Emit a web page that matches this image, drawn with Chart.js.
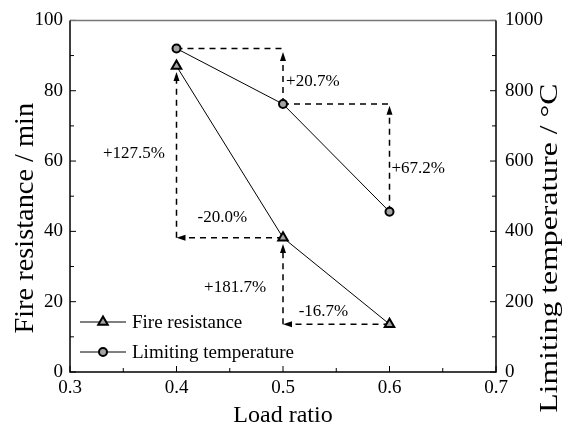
<!DOCTYPE html>
<html>
<head>
<meta charset="utf-8">
<script src="https://cdn.jsdelivr.net/npm/chart.js@4.4.1/dist/chart.umd.min.js"></script>
<style>
  html, body { margin: 0; padding: 0; background: #fff; }
</style>
</head>
<body>
<canvas id="chart" width="568" height="433"></canvas>
<script>
"use strict";

// Data
const loadRatio = [0.4, 0.5, 0.6];
const fireResistance = [87.0, 38.2, 13.6];
const limitingTemp = [920, 762, 456];

const xTicks = [0.3, 0.4, 0.5, 0.6, 0.7];
const fireTicks = [0, 20, 40, 60, 80, 100];
const tempTicks = [0, 200, 400, 600, 800, 1000];

// Dashed guide lines (data coordinates), arrow head at "to" end when head = true
const fireGuides = [
    { from: [0.4, 38.2], to: [0.4, 85.3], head: true },
    { from: [0.5, 38.2], to: [0.4, 38.2], head: true },
    { from: [0.5, 13.6], to: [0.5, 36.4], head: true },
    { from: [0.6, 13.6], to: [0.5, 13.6], head: true }
];
const tempGuides = [
    { from: [0.4, 920], to: [0.5, 920], head: false },
    { from: [0.5, 762], to: [0.5, 910], head: true },
    { from: [0.5, 762], to: [0.6, 762], head: false },
    { from: [0.6, 456], to: [0.6, 757], head: true }
];

// Percentage change labels
const changeLabels = [
    { text: '+20.7%', x: 0.528, y: 827, axis: 'y1' },
    { text: '+67.2%', x: 0.627, y: 578, axis: 'y1' },
    { text: '+127.5%', x: 0.360, y: 62.0, axis: 'y' },
    { text: '-20.0%', x: 0.443, y: 43.9, axis: 'y' },
    { text: '+181.7%', x: 0.455, y: 24.0, axis: 'y' },
    { text: '-16.7%', x: 0.538, y: 17.3, axis: 'y' }
];

const leftTitle = 'Fire resistance / min';
const rightTitle = 'Limiting temperature / \u00B0C';

const FONT = "'Liberation Serif', 'Times New Roman', serif";
const MARKER_FILL = '#a3a3a3';

// Frame, inward ticks, vertical axis titles
const framePlugin = {
    id: 'frame',
    afterDraw(chart) {
        const { ctx, chartArea: a, scales } = chart;
        ctx.save();
        ctx.strokeStyle = '#000';
        ctx.lineWidth = 1;
        // x ticks every 0.05
        for (let i = 0; i <= 8; i++) {
            const v = 0.3 + i * 0.05;
            const px = scales.x.getPixelForValue(v);
            const len = i % 2 === 0 ? 6 : 4;
            ctx.beginPath();
            ctx.moveTo(px, a.bottom);
            ctx.lineTo(px, a.bottom - len);
            ctx.stroke();
        }
        // left y ticks every 10
        for (let v = 0; v <= 100; v += 10) {
            const py = scales.y.getPixelForValue(v);
            const len = v % 20 === 0 ? 6 : 4;
            ctx.beginPath();
            ctx.moveTo(a.left, py);
            ctx.lineTo(a.left + len, py);
            ctx.stroke();
        }
        // right y ticks every 100
        for (let v = 0; v <= 1000; v += 100) {
            const py = scales.y1.getPixelForValue(v);
            const len = v % 200 === 0 ? 6 : 4;
            ctx.beginPath();
            ctx.moveTo(a.right, py);
            ctx.lineTo(a.right - len, py);
            ctx.stroke();
        }
        // frame
        ctx.lineWidth = 1.5;
        ctx.strokeStyle = '#777';
        ctx.beginPath();
        ctx.moveTo(a.left, a.top);
        ctx.lineTo(a.right, a.top);
        ctx.stroke();
        ctx.strokeStyle = '#000';
        ctx.beginPath();
        ctx.moveTo(a.left, a.top);
        ctx.lineTo(a.left, a.bottom);
        ctx.lineTo(a.right, a.bottom);
        ctx.lineTo(a.right, a.top);
        ctx.stroke();

        // vertical titles, read bottom-to-top
        ctx.fillStyle = '#000';
        ctx.textAlign = 'center';
        ctx.textBaseline = 'alphabetic';
        const midY = (a.top + a.bottom) / 2;

        ctx.save();
        ctx.translate(33, midY + 22);
        ctx.rotate(-Math.PI / 2);
        ctx.scale(1.05, 1);
        ctx.font = `27px ${FONT}`;
        ctx.fillText(leftTitle, 0, 0);
        ctx.restore();

        ctx.save();
        ctx.translate(557, midY + 52);
        ctx.rotate(-Math.PI / 2);
        ctx.scale(1.27, 1);
        ctx.font = `25px ${FONT}`;
        ctx.fillText(rightTitle, 0, 0);
        ctx.restore();

        ctx.restore();
    }
};

// Dashed arrows and percentage labels
const guidePlugin = {
    id: 'guides',
    beforeDatasetsDraw(chart) {
        const { ctx, scales } = chart;
        const drawGuide = (g, yScale) => {
            const x1 = scales.x.getPixelForValue(g.from[0]);
            const y1 = yScale.getPixelForValue(g.from[1]);
            const x2 = scales.x.getPixelForValue(g.to[0]);
            const y2 = yScale.getPixelForValue(g.to[1]);
            const ang = Math.atan2(y2 - y1, x2 - x1);
            const headLen = 9;
            const ex = g.head ? x2 - Math.cos(ang) * headLen * 0.8 : x2;
            const ey = g.head ? y2 - Math.sin(ang) * headLen * 0.8 : y2;
            ctx.save();
            ctx.strokeStyle = '#000';
            ctx.lineWidth = 1.5;
            ctx.setLineDash([6, 5]);
            ctx.beginPath();
            ctx.moveTo(x1, y1);
            ctx.lineTo(ex, ey);
            ctx.stroke();
            ctx.setLineDash([]);
            if (g.head) {
                ctx.fillStyle = '#000';
                ctx.beginPath();
                ctx.moveTo(x2, y2);
                ctx.lineTo(x2 - Math.cos(ang) * headLen + Math.sin(ang) * 3,
                           y2 - Math.sin(ang) * headLen - Math.cos(ang) * 3);
                ctx.lineTo(x2 - Math.cos(ang) * headLen - Math.sin(ang) * 3,
                           y2 - Math.sin(ang) * headLen + Math.cos(ang) * 3);
                ctx.closePath();
                ctx.fill();
            }
            ctx.restore();
        };
        fireGuides.forEach(g => drawGuide(g, scales.y));
        tempGuides.forEach(g => drawGuide(g, scales.y1));

        ctx.save();
        ctx.fillStyle = '#000';
        ctx.font = `17px ${FONT}`;
        ctx.textAlign = 'center';
        ctx.textBaseline = 'middle';
        changeLabels.forEach(l => {
            ctx.fillText(l.text, scales.x.getPixelForValue(l.x), scales[l.axis].getPixelForValue(l.y));
        });
        ctx.restore();
    }
};

// Legend with line through marker
const legendPlugin = {
    id: 'lineLegend',
    afterDraw(chart) {
        const { ctx, chartArea: a } = chart;
        ctx.save();
        ctx.font = `19px ${FONT}`;
        ctx.textBaseline = 'middle';
        chart.data.datasets.forEach((ds, i) => {
            const y = a.bottom - 50 + i * 30;
            const x0 = a.left + 10;
            ctx.strokeStyle = '#000';
            ctx.lineWidth = 1;
            ctx.beginPath();
            ctx.moveTo(x0, y);
            ctx.lineTo(x0 + 46, y);
            ctx.stroke();
            ctx.fillStyle = MARKER_FILL;
            ctx.strokeStyle = '#000';
            ctx.lineWidth = ds.pointBorderWidth;
            Chart.helpers.drawPoint(ctx, {
                pointStyle: ds.pointStyle,
                radius: ds.pointRadius,
                borderWidth: ds.pointBorderWidth
            }, x0 + 23, y);
            ctx.fillStyle = '#000';
            ctx.fillText(ds.label, x0 + 52, y + 1);
        });
        ctx.restore();
    }
};

const ctx = document.getElementById('chart').getContext('2d');
const chart = new Chart(ctx, {
    type: 'line',
    data: {
        datasets: [{
            label: 'Fire resistance',
            data: loadRatio.map((x, i) => ({ x, y: fireResistance[i] })),
            yAxisID: 'y',
            borderColor: '#000',
            borderWidth: 1,
            pointStyle: 'triangle',
            pointRadius: 5.5,
            pointBorderWidth: 2,
            pointBackgroundColor: MARKER_FILL,
            pointBorderColor: '#000'
        }, {
            label: 'Limiting temperature',
            data: loadRatio.map((x, i) => ({ x, y: limitingTemp[i] })),
            yAxisID: 'y1',
            borderColor: '#000',
            borderWidth: 1,
            pointStyle: 'circle',
            pointRadius: 4,
            pointBorderWidth: 2,
            pointBackgroundColor: MARKER_FILL,
            pointBorderColor: '#000'
        }]
    },
    options: {
        responsive: false,
        animation: false,
        devicePixelRatio: 1,
        layout: { autoPadding: false, padding: { top: 19, left: 0, right: 0, bottom: 0 } },
        plugins: { legend: { display: false }, tooltip: { enabled: false } },
        scales: {
            x: {
                type: 'linear',
                min: 0.3,
                max: 0.7,
                afterBuildTicks: s => { s.ticks = xTicks.map(v => ({ value: v })); },
                afterFit: s => { s.height = 61; },
                grid: { display: false, drawTicks: false },
                border: { display: false },
                ticks: { color: '#000', padding: 5, font: { family: FONT, size: 19 }, callback: v => v.toFixed(1) },
                title: { display: true, text: 'Load ratio', color: '#000', font: { family: FONT, size: 24 }, padding: { top: 0, bottom: 3 } }
            },
            y: {
                position: 'left',
                min: 0,
                max: 100,
                afterBuildTicks: s => { s.ticks = fireTicks.map(v => ({ value: v })); },
                afterFit: s => { s.width = 70; },
                grid: { display: false, drawTicks: false },
                border: { display: false },
                ticks: { color: '#000', padding: 7, font: { family: FONT, size: 19 }, callback: v => String(v) }
            },
            y1: {
                position: 'right',
                min: 0,
                max: 1000,
                afterBuildTicks: s => { s.ticks = tempTicks.map(v => ({ value: v })); },
                afterFit: s => { s.width = 72; },
                grid: { display: false, drawTicks: false },
                border: { display: false },
                ticks: { color: '#000', padding: 9, font: { family: FONT, size: 19 }, callback: v => String(v) }
            }
        }
    },
    plugins: [guidePlugin, framePlugin, legendPlugin]
});
</script>
</body>
</html>
